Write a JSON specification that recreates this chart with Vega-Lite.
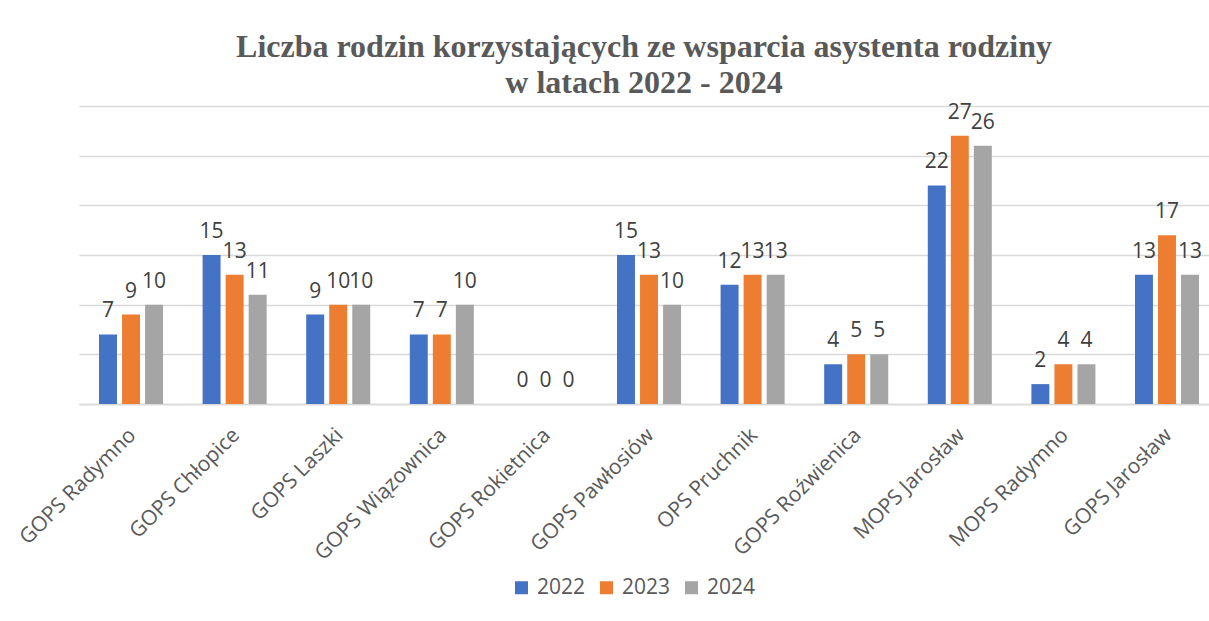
{
  "$schema": "https://vega.github.io/schema/vega-lite/v6.json",
  "autosize": "none",
  "padding": {"left": 79, "top": 106, "right": 0, "bottom": 217},
  "width": 1130,
  "height": 298,
  "background": "white",
  "title": {
    "text": ["Liczba rodzin korzystających ze wsparcia asystenta rodziny", "w latach 2022 - 2024"],
    "font": "Liberation Serif",
    "fontSize": 32,
    "fontWeight": "bold",
    "color": "#595959",
    "lineHeight": 36,
    "anchor": "middle",
    "offset": 2
  },
  "data": {
    "values": [
      {"osrodek": "GOPS Radymno", "rok": "2022", "liczba": 7},
      {"osrodek": "GOPS Radymno", "rok": "2023", "liczba": 9},
      {"osrodek": "GOPS Radymno", "rok": "2024", "liczba": 10},
      {"osrodek": "GOPS Chłopice", "rok": "2022", "liczba": 15},
      {"osrodek": "GOPS Chłopice", "rok": "2023", "liczba": 13},
      {"osrodek": "GOPS Chłopice", "rok": "2024", "liczba": 11},
      {"osrodek": "GOPS Laszki", "rok": "2022", "liczba": 9},
      {"osrodek": "GOPS Laszki", "rok": "2023", "liczba": 10},
      {"osrodek": "GOPS Laszki", "rok": "2024", "liczba": 10},
      {"osrodek": "GOPS Wiązownica", "rok": "2022", "liczba": 7},
      {"osrodek": "GOPS Wiązownica", "rok": "2023", "liczba": 7},
      {"osrodek": "GOPS Wiązownica", "rok": "2024", "liczba": 10},
      {"osrodek": "GOPS Rokietnica", "rok": "2022", "liczba": 0},
      {"osrodek": "GOPS Rokietnica", "rok": "2023", "liczba": 0},
      {"osrodek": "GOPS Rokietnica", "rok": "2024", "liczba": 0},
      {"osrodek": "GOPS Pawłosiów", "rok": "2022", "liczba": 15},
      {"osrodek": "GOPS Pawłosiów", "rok": "2023", "liczba": 13},
      {"osrodek": "GOPS Pawłosiów", "rok": "2024", "liczba": 10},
      {"osrodek": "OPS Pruchnik", "rok": "2022", "liczba": 12},
      {"osrodek": "OPS Pruchnik", "rok": "2023", "liczba": 13},
      {"osrodek": "OPS Pruchnik", "rok": "2024", "liczba": 13},
      {"osrodek": "GOPS Roźwienica", "rok": "2022", "liczba": 4},
      {"osrodek": "GOPS Roźwienica", "rok": "2023", "liczba": 5},
      {"osrodek": "GOPS Roźwienica", "rok": "2024", "liczba": 5},
      {"osrodek": "MOPS Jarosław", "rok": "2022", "liczba": 22},
      {"osrodek": "MOPS Jarosław", "rok": "2023", "liczba": 27},
      {"osrodek": "MOPS Jarosław", "rok": "2024", "liczba": 26},
      {"osrodek": "MOPS Radymno", "rok": "2022", "liczba": 2},
      {"osrodek": "MOPS Radymno", "rok": "2023", "liczba": 4},
      {"osrodek": "MOPS Radymno", "rok": "2024", "liczba": 4},
      {"osrodek": "GOPS Jarosław", "rok": "2022", "liczba": 13},
      {"osrodek": "GOPS Jarosław", "rok": "2023", "liczba": 17},
      {"osrodek": "GOPS Jarosław", "rok": "2024", "liczba": 13}
    ]
  },
  "encoding": {
    "x": {
      "field": "osrodek",
      "type": "nominal",
      "sort": null,
      "title": null,
      "scale": {"paddingInner": 0.382, "paddingOuter": 0.1448, "align": 0.667},
      "axis": {
        "labelAngle": -45,
        "labelFont": "Open Sans",
        "labelFontSize": 21,
        "labelColor": "#595959",
        "labelPadding": 20,
        "labelOffset": -6,
        "ticks": false,
        "domainColor": "#d9d9d9",
        "domainWidth": 1.5
      }
    },
    "xOffset": {
      "field": "rok",
      "type": "nominal",
      "scale": {"paddingInner": 0.22, "paddingOuter": 0}
    },
    "y": {
      "field": "liczba",
      "type": "quantitative",
      "title": null,
      "scale": {"domain": [0, 30], "nice": false},
      "axis": {
        "values": [0, 5, 10, 15, 20, 25, 30],
        "labels": false,
        "ticks": false,
        "domain": false,
        "gridColor": "#d9d9d9",
        "gridWidth": 1.5
      }
    }
  },
  "layer": [
    {
      "mark": {"type": "bar"},
      "encoding": {
        "color": {
          "field": "rok",
          "type": "nominal",
          "title": null,
          "scale": {"domain": ["2022", "2023", "2024"], "range": ["#4472C4", "#ED7D31", "#A5A5A5"]},
          "legend": {
            "orient": "none",
            "direction": "horizontal",
            "legendX": 432,
            "legendY": 471,
            "symbolType": "square",
            "symbolSize": 169,
            "symbolStrokeWidth": 0,
            "labelFont": "Open Sans",
            "labelFontSize": 21,
            "labelColor": "#595959",
            "labelOffset": 5,
            "columnPadding": 10
          }
        }
      }
    },
    {
      "mark": {"type": "text", "baseline": "alphabetic", "dy": -17, "font": "Open Sans", "fontSize": 21, "color": "#404040"},
      "encoding": {
        "text": {"field": "liczba", "type": "quantitative"}
      }
    }
  ],
  "config": {
    "view": {"stroke": null}
  }
}
